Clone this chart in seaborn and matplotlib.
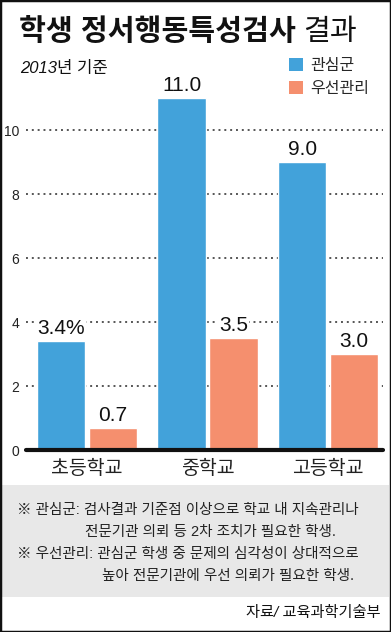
import pandas as pd
import matplotlib.pyplot as plt
import seaborn as sns
from matplotlib.patches import Rectangle, Patch

sns.set_style("white")
plt.rcParams['font.family'] = ['Liberation Sans', 'Noto Sans CJK KR']

# data
schools = ["초등학교", "중학교", "고등학교"]
groups = ["관심군", "우선관리"]
interest = [3.4, 11.0, 9.0]
priority = [0.7, 3.5, 3.0]
interest_labels = ["3.4%", "11.0", "9.0"]
priority_labels = ["0.7", "3.5", "3.0"]

df = pd.DataFrame({
    "school": schools * 2,
    "group": [groups[0]] * 3 + [groups[1]] * 3,
    "value": interest + priority,
})

colors = ["#42a2da", "#f58f6e"]
W, H = 391, 632

fig = plt.figure(figsize=(W / 100, H / 100), dpi=100)
ax = fig.add_axes([26 / W, 1 - 450 / H, (383 - 26) / W, (450 - 82) / H])

sns.barplot(data=df, x="school", y="value", hue="group", palette=colors,
            width=0.86, gap=0.06, saturation=1, legend=False, ax=ax)

ax.set_xlim(-0.506, 2.456)
ax.set_ylim(0, 11.5)
ax.set_yticks([0, 2, 4, 6, 8, 10])
ax.set_xlabel("")
ax.set_ylabel("")
sns.despine(ax=ax, left=True, bottom=True)
ax.yaxis.grid(True, linestyle=(0, (1, 2)), color="#555555", linewidth=1.4)
ax.set_axisbelow(True)
ax.axhline(0, color="#111111", linewidth=3, clip_on=False, zorder=5)
ax.tick_params(axis="y", length=0, pad=5, labelsize=10, labelcolor="#222222")
ax.tick_params(axis="x", length=0, pad=7, labelsize=14, labelcolor="#222222")

for cont, labs in zip(ax.containers, [interest_labels, priority_labels]):
    ax.bar_label(cont, labels=labs, padding=2, fontsize=15, color="#111111",
                 bbox=dict(facecolor="white", edgecolor="none", pad=0.5))

# title
t1 = fig.text(19 / W, 1 - 32 / H, "학생 정서행동특성검사", fontsize=21,
              fontweight="bold", va="center", color="#111111")
fig.canvas.draw()
bb = t1.get_window_extent()
fig.text((bb.x1 + 7) / W, 1 - 32 / H, "결과", fontsize=21, va="center",
         color="#111111")
fig.text(20 / W, 1 - 69 / H, "2013년 기준", fontsize=12, style="italic",
         va="center", color="#111111")

# legend
handles = [Patch(facecolor=c, edgecolor="none") for c in colors]
fig.legend(handles, groups, loc="upper left", bbox_to_anchor=(289 / W, 1 - 58 / H),
           frameon=False, fontsize=11.5, handlelength=0.85, handleheight=0.85,
           handletextpad=0.5, labelspacing=0.5, borderpad=0, borderaxespad=0)

# notes box
fig.add_artist(Rectangle((2 / W, 1 - 597 / H), 387 / W, 112 / H,
                         transform=fig.transFigure, facecolor="#e8e8e8",
                         edgecolor="none", zorder=0))
notes = [
    (17, 510, "※ 관심군: 검사결과 기준점 이상으로 학교 내 지속관리나"),
    (85, 532, "전문기관 의뢰 등 2차 조치가 필요한 학생."),
    (17, 554, "※ 우선관리: 관심군 학생 중 문제의 심각성이 상대적으로"),
    (102, 576, "높아 전문기관에 우선 의뢰가 필요한 학생."),
]
for x, y, s in notes:
    fig.text(x / W, 1 - y / H, s, fontsize=10.5, va="center", color="#222222")

fig.text(380 / W, 1 - 613 / H, "자료/ 교육과학기술부", fontsize=11,
         style="italic", ha="right", va="center", color="#111111")

# outer border
fig.add_artist(Rectangle((0, 0), 1, 1, transform=fig.transFigure,
                         facecolor="none", edgecolor="#111111", linewidth=2.5))

fig.savefig("out.png", dpi=100)
